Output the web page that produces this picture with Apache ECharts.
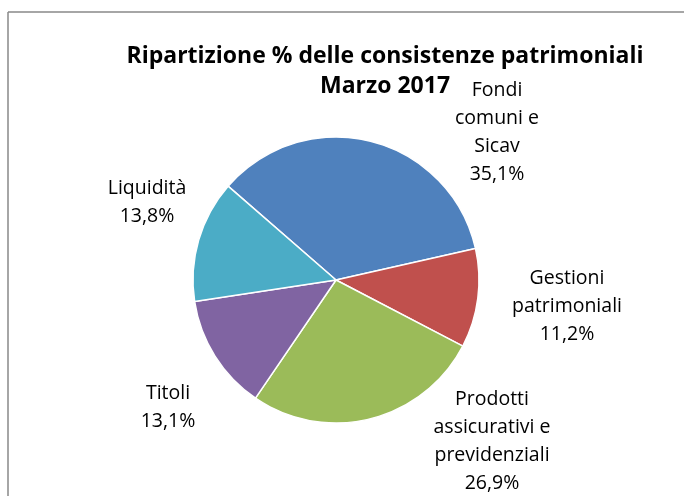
<!DOCTYPE html>
<html><head><meta charset="utf-8">
<script src="https://cdn.jsdelivr.net/npm/echarts@6/dist/echarts.min.js"></script>
<style>html,body{margin:0;padding:0;background:#fff}#c{width:684px;height:496px}</style>
</head><body><div id="c"></div>
<script>
const categories = ["Fondi\ncomuni e\nSicav", "Gestioni\npatrimoniali", "Prodotti\nassicurativi e\nprevidenziali", "Titoli", "Liquidità"];
const values = [35.1, 11.2, 26.9, 13.1, 13.8];
const colors = ["#4F81BD", "#C0504D", "#9BBB59", "#8064A2", "#4BACC6"];
const titleLines = ["Ripartizione % delle consistenze patrimoniali", "Marzo 2017"];

const labelPos = [[497, 132], [567, 306], [492, 441], [168, 407], [147, 202]];
const FONT = "'Open Sans', sans-serif";

const chart = echarts.init(document.getElementById('c'), null, {renderer: 'canvas'});
chart.setOption({
  backgroundColor: '#fff',
  animation: false,
  title: {
    text: titleLines.join('\n'),
    left: 380, top: 36, textAlign: 'center',
    textStyle: {fontFamily: FONT, fontWeight: 'bold', fontSize: 23, color: '#000', lineHeight: 30}
  },
  graphic: [
    {type: 'line', shape: {x1: 8, y1: 12, x2: 684, y2: 12}, style: {stroke: '#888', lineWidth: 1.5}},
    {type: 'line', shape: {x1: 8, y1: 12, x2: 8, y2: 496}, style: {stroke: '#888', lineWidth: 1.5}}
  ],
  series: [{
    type: 'pie',
    center: [336, 280],
    radius: 143,
    startAngle: 139,
    clockwise: true,
    data: categories.map((c, i) => ({name: c, value: values[i], itemStyle: {color: colors[i]}})),
    itemStyle: {borderColor: '#fff', borderWidth: 1.5},
    label: {
      show: true, position: 'outside',
      formatter: p => p.name + '\n' + p.value.toFixed(1).replace('.', ',') + '%',
      fontFamily: FONT, fontSize: 19.5, lineHeight: 28, color: '#000', align: 'center'
    },
    labelLine: {show: false},
    labelLayout: p => ({x: labelPos[p.dataIndex][0], y: labelPos[p.dataIndex][1], align: 'center', verticalAlign: 'middle'}),
    emphasis: {disabled: true}
  }]
});
</script></body></html>
